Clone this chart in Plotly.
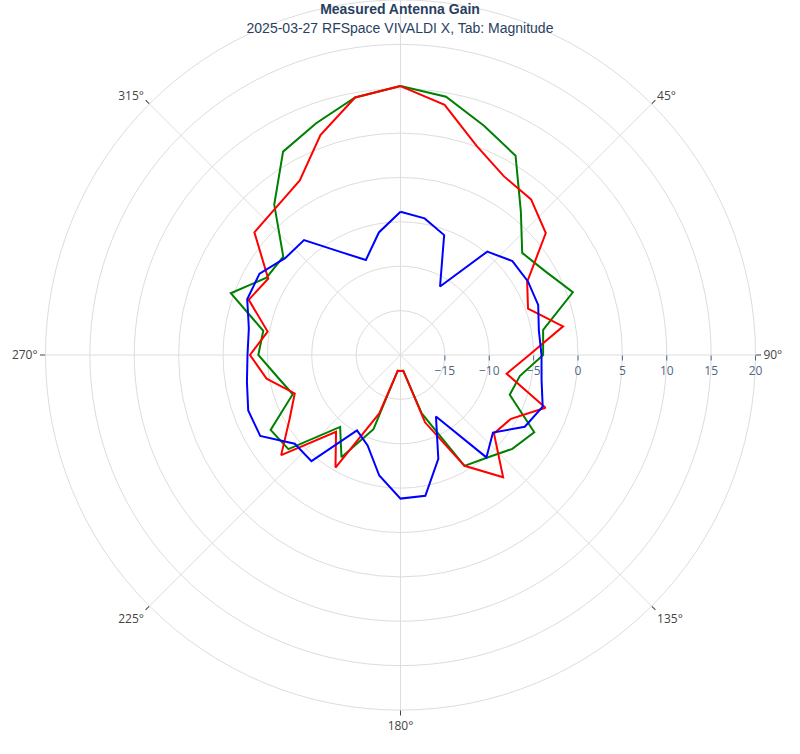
import plotly.graph_objects as go

theta = list(range(0, 360, 10))

green = [10.3, 9.55, 7.5, 5.93, 1.1, -2.1, -1.15, 0.67, -3.68, -3.93,
         -6.35, -6.9, -2.6, -3.55, -4.88, -5.58, -13.0, -18.2, -18.2, -18.2,
         -11.1, -6.7, -9.42, -3.51, -3.1, -7.08, -5.9, -3.98, -4.3, 0.35,
         -2.57, -2.76, 2.13, 6.46, 7.79, 9.46]

red = [10.3, 8.63, 5.08, 3.27, 2.89, 1.37, -3.52, -4.71, -1.4, -5.5,
       -7.86, -2.61, -5.63, -6.25, -2.01, -5.58, -11.93, -18.2, -18.2, -18.2,
       -13.0, -5.35, -8.7, -2.45, -5.57, -7.32, -4.68, -3.04, -4.8, -1.8,
       -2.79, 1.49, 1.75, 2.7, 6.38, 9.46]

blue = [-3.85, -4.37, -5.62, -11.09, -4.79, -3.54, -3.42, -3.49, -4.17, -4.11,
        -3.86, -2.95, -3.83, -6.4, -4.94, -12.01, -7.54, -3.89, -3.82, -6.21,
        -9.16, -10.2, -4.39, -4.44, -1.75, -1.74, -2.43, -2.76, -2.65, -1.62,
        -1.66, -3.03, -3.09, -6.62, -8.6, -5.98]

radial_ticks = [-15, -10, -5, 0, 5, 10, 15, 20]

series = [("green", green, "green"), ("red", red, "red"), ("blue", blue, "blue")]

fig = go.Figure()
for name, vals, col in series:
    fig.add_trace(go.Scatterpolar(
        r=vals + vals[:1], theta=theta + theta[:1], mode="lines",
        name=name, line=dict(color=col, width=2), showlegend=False))

fig.update_layout(
    width=800, height=754,
    paper_bgcolor="white",
    margin=dict(l=45, r=44, t=0, b=44),
    title=dict(
        text="<b>Measured Antenna Gain</b><br>2025-03-27 RFSpace VIVALDI X, Tab: Magnitude",
        x=0.5, xanchor="center", y=0.981, yanchor="top", yref="container",
        font=dict(family="Liberation Sans, Arial", size=14, color="#2a3f5f")),
    polar=dict(
        bgcolor="white",
        angularaxis=dict(rotation=90, direction="clockwise", dtick=45,
                         ticks="outside", ticklen=5, tickcolor="#444",
                         gridcolor="#dddddd", linecolor="#dddddd", showline=True,
                         tickfont=dict(family="Open Sans, DejaVu Sans", size=12, color="#444")),
        radialaxis=dict(range=[-20, 20], tickvals=radial_ticks, ticks="outside", ticklen=5,
                        tickcolor="#506784", gridcolor="#dddddd", showline=False,
                        tickfont=dict(family="Open Sans, DejaVu Sans", size=12, color="#506784")),
    ),
)

fig.write_html("out.html")
